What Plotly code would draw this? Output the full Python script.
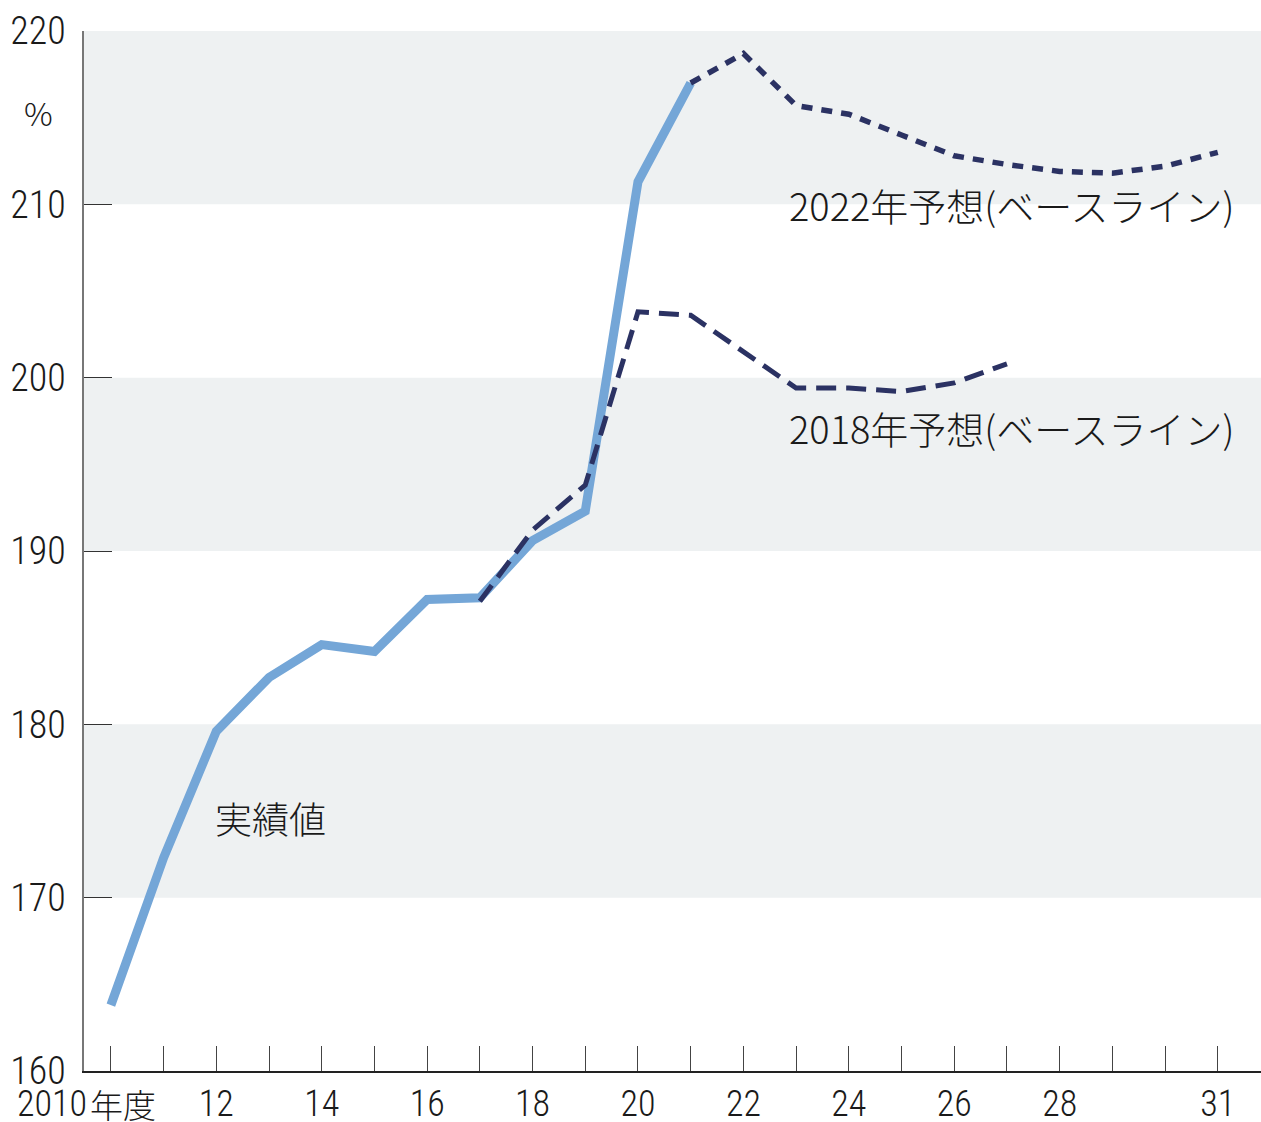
import plotly.graph_objects as go

# ---- data ----
actual_years = [2010, 2011, 2012, 2013, 2014, 2015, 2016, 2017, 2018, 2019, 2020, 2021]
actual_vals = [163.8, 172.3, 179.6, 182.7, 184.6, 184.2, 187.2, 187.3, 190.6, 192.3, 211.3, 217.0]

f2018_years = [2017, 2018, 2019, 2020, 2021, 2022, 2023, 2024, 2025, 2026, 2027]
f2018_vals = [187.1, 191.2, 193.8, 203.8, 203.6, 201.5, 199.4, 199.4, 199.2, 199.7, 200.8]

f2022_years = [2021, 2022, 2023, 2024, 2025, 2026, 2027, 2028, 2029, 2030, 2031]
f2022_vals = [217.0, 218.7, 215.7, 215.2, 214.0, 212.8, 212.3, 211.9, 211.8, 212.2, 213.0]

x_tick_vals = list(range(2010, 2032))
x_tick_text = ["", "", "12", "", "14", "", "16", "", "18", "", "20", "", "22", "", "24", "", "26", "", "28", "", "", "31"]
y_tick_vals = [160, 170, 180, 190, 200, 210, 220]
bands = [(210, 220), (190, 200), (170, 180)]

BLUE = "#74a6d7"
NAVY = "#2b3263"
BAND = "#eef1f2"
NUM_FONT = "Roboto Condensed, Liberation Sans Narrow, Liberation Sans, sans-serif"
JP_FONT = "Noto Sans CJK JP, Noto Sans, sans-serif"

fig = go.Figure()

fig.add_trace(go.Scatter(x=actual_years, y=actual_vals, mode="lines",
                         line=dict(color=BLUE, width=9), showlegend=False, hoverinfo="skip"))
fig.add_trace(go.Scatter(x=f2018_years, y=f2018_vals, mode="lines",
                         line=dict(color=NAVY, width=5, dash="20px,10px"), showlegend=False, hoverinfo="skip"))
fig.add_trace(go.Scatter(x=f2022_years, y=f2022_vals, mode="lines",
                         line=dict(color=NAVY, width=5.5, dash="11px,9px"), showlegend=False, hoverinfo="skip"))

shapes = []
for lo, hi in bands:
    shapes.append(dict(type="rect", xref="paper", yref="y", x0=0, x1=1, y0=lo, y1=hi,
                       fillcolor=BAND, line=dict(width=0), layer="below"))

annotations = [
    dict(x=2010, y=160, xref="x", yref="y", text="2010", showarrow=False,
         xanchor="right", yanchor="middle", xshift=-22, yshift=-33,
         font=dict(family=NUM_FONT, size=36, color="#1a1a1a", weight=300)),
    dict(x=2010, y=160, xref="x", yref="y", text="年度", showarrow=False,
         xanchor="left", yanchor="middle", xshift=-23, yshift=-33,
         font=dict(family=JP_FONT, size=33, color="#1a1a1a", weight=300)),
    dict(x=0, y=215.3, xref="paper", yref="y", text="%", showarrow=False,
         xanchor="center", yanchor="middle", xshift=-46,
         font=dict(family=JP_FONT, size=32, color="#1a1a1a", weight=300)),
    dict(x=2022.83, y=210.0, xref="x", yref="y", text="2022年予想(ベースライン)", showarrow=False,
         xanchor="left", yanchor="middle",
         font=dict(family=JP_FONT, size=38, color="#1a1a1a", weight=300)),
    dict(x=2022.83, y=197.1, xref="x", yref="y", text="2018年予想(ベースライン)", showarrow=False,
         xanchor="left", yanchor="middle",
         font=dict(family=JP_FONT, size=38, color="#1a1a1a", weight=300)),
    dict(x=2011.94, y=174.6, xref="x", yref="y", text="実績値", showarrow=False,
         xanchor="left", yanchor="middle",
         font=dict(family=JP_FONT, size=37, color="#1a1a1a", weight=300)),
]

fig.update_layout(
    width=1261, height=1122,
    margin=dict(l=84, r=0, t=31, b=51),
    plot_bgcolor="white", paper_bgcolor="white",
    shapes=shapes, annotations=annotations,
    xaxis=dict(range=[2009.49, 2031.82], tickmode="array", tickvals=x_tick_vals, ticktext=x_tick_text,
               ticks="inside", ticklen=25, tickwidth=1.3, tickcolor="#444", automargin=False,
               showline=True, linecolor="#222", linewidth=1.5, showgrid=False, zeroline=False,
               tickfont=dict(family=NUM_FONT, size=36, color="#1a1a1a", weight=300), ticklabelstandoff=0),
    yaxis=dict(range=[160, 220], tickmode="array", tickvals=y_tick_vals, automargin=False,
               ticks="inside", ticklen=28, tickwidth=1.3, tickcolor="#333",
               showline=True, linecolor="#777", linewidth=1.5, showgrid=False, zeroline=False,
               tickfont=dict(family=NUM_FONT, size=38, color="#1a1a1a", weight=300), ticklabelstandoff=9),
)

fig.write_html("out.html")
